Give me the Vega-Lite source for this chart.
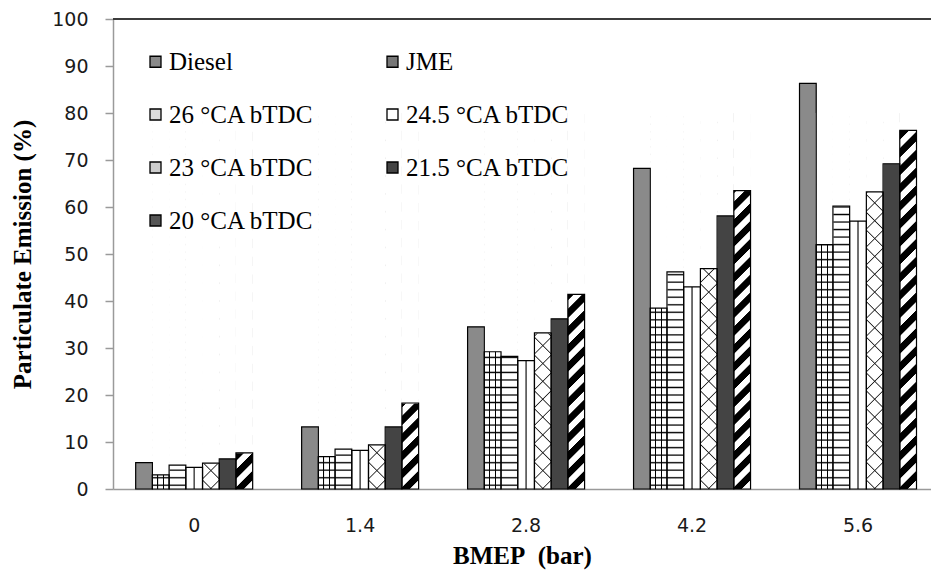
{
"$schema": "https://vega.github.io/schema/vega-lite/v6.json",
"width": 818, "height": 470,
"autosize": {"type": "none"},
"padding": {"left": 113, "top": 19, "right": 0, "bottom": 87},
"background": "#ffffff",
"data": {"values": [
{"bmep":"0","series":"Diesel","value":5.6},
{"bmep":"0","series":"JME","value":3.0},
{"bmep":"0","series":"26 °CA bTDC","value":5.1},
{"bmep":"0","series":"24.5 °CA bTDC","value":4.6},
{"bmep":"0","series":"23 °CA bTDC","value":5.5},
{"bmep":"0","series":"21.5 °CA bTDC","value":6.4},
{"bmep":"0","series":"20 °CA bTDC","value":7.7},
{"bmep":"1.4","series":"Diesel","value":13.2},
{"bmep":"1.4","series":"JME","value":6.9},
{"bmep":"1.4","series":"26 °CA bTDC","value":8.5},
{"bmep":"1.4","series":"24.5 °CA bTDC","value":8.2},
{"bmep":"1.4","series":"23 °CA bTDC","value":9.4},
{"bmep":"1.4","series":"21.5 °CA bTDC","value":13.2},
{"bmep":"1.4","series":"20 °CA bTDC","value":18.3},
{"bmep":"2.8","series":"Diesel","value":34.5},
{"bmep":"2.8","series":"JME","value":29.2},
{"bmep":"2.8","series":"26 °CA bTDC","value":28.2},
{"bmep":"2.8","series":"24.5 °CA bTDC","value":27.3},
{"bmep":"2.8","series":"23 °CA bTDC","value":33.2},
{"bmep":"2.8","series":"21.5 °CA bTDC","value":36.2},
{"bmep":"2.8","series":"20 °CA bTDC","value":41.4},
{"bmep":"4.2","series":"Diesel","value":68.2},
{"bmep":"4.2","series":"JME","value":38.5},
{"bmep":"4.2","series":"26 °CA bTDC","value":46.2},
{"bmep":"4.2","series":"24.5 °CA bTDC","value":43.0},
{"bmep":"4.2","series":"23 °CA bTDC","value":46.9},
{"bmep":"4.2","series":"21.5 °CA bTDC","value":58.1},
{"bmep":"4.2","series":"20 °CA bTDC","value":63.5},
{"bmep":"5.6","series":"Diesel","value":86.3},
{"bmep":"5.6","series":"JME","value":52.0},
{"bmep":"5.6","series":"26 °CA bTDC","value":60.2},
{"bmep":"5.6","series":"24.5 °CA bTDC","value":57.0},
{"bmep":"5.6","series":"23 °CA bTDC","value":63.2},
{"bmep":"5.6","series":"21.5 °CA bTDC","value":69.2},
{"bmep":"5.6","series":"20 °CA bTDC","value":76.3}
]},
"layer": [
{
"encoding": {
"x": {"field": "bmep", "type": "nominal",
"scale": {"domain": ["0","1.4","2.8","4.2","5.6"], "paddingInner": 0.295, "paddingOuter": 0.112, "align": 0.61},
"axis": {"title": "BMEP\u00a0 (bar)", "labelAngle": 0, "ticks": false, "domainColor": "#9a9a9a", "domainWidth": 1.5, "labelFont": "DejaVu Sans", "labelFontSize": 19, "labelColor": "#1a1a1a", "labelPadding": 27, "titleFont": "Liberation Serif", "titleFontWeight": "bold", "titleFontSize": 25, "titleColor": "#000000", "titlePadding": 8}},
"xOffset": {"field": "series", "type": "nominal",
"scale": {"domain": ["Diesel","JME","26 °CA bTDC","24.5 °CA bTDC","23 °CA bTDC","21.5 °CA bTDC","20 °CA bTDC"], "paddingInner": 0, "paddingOuter": 0}}
},
"layer": [
{
"mark": {"type": "bar"},
"encoding": {
"y": {"field": "value", "type": "quantitative", "scale": {"domain": [0, 100], "nice": false},
"axis": {"title": "Particulate Emission (%)", "values": [0,10,20,30,40,50,60,70,80,90,100], "grid": false, "domainColor": "#9a9a9a", "domainWidth": 1.5, "tickColor": "#9a9a9a", "tickWidth": 1.5, "tickSize": 8, "labelFont": "DejaVu Sans", "labelFontSize": 19, "labelColor": "#1a1a1a", "labelPadding": 17, "titleFont": "Liberation Serif", "titleFontWeight": "bold", "titleFontSize": 25, "titleColor": "#000000", "titlePadding": 16}},
"fill": {"field": "series", "type": "nominal",
"scale": {"domain": ["Diesel","JME","26 °CA bTDC","24.5 °CA bTDC","23 °CA bTDC","21.5 °CA bTDC","20 °CA bTDC"],
"range": ["#8a8a8a","#777777","#dddddd","#ffffff","#cccccc","#444444","#555555"]},
"legend": {"orient": "none", "legendX": 30, "legendY": 30, "direction": "horizontal", "columns": 2, "title": null, "symbolType": "square", "symbolSize": 121, "symbolStrokeColor": "#000000", "symbolStrokeWidth": 1.3, "symbolOpacity": 1, "labelFont": "Liberation Serif", "labelFontSize": 25, "labelColor": "#000000", "labelOffset": 1, "rowPadding": 27, "columnPadding": 66, "labelLimit": 400, "padding": 0,
"labelExpr": "datum.value == 'Diesel' ? '\u2002Diesel' : datum.label"}}
}
},
{
"transform": [{"filter": "datum.series === 'JME' || datum.series === '26 °CA bTDC'"}],
"mark": {"type": "bar", "fill": {"gradient": "linear", "x1": 0, "y1": 0, "x2": 0, "y2": 1, "stops": [
{"offset":0.0065,"color":"#fff"},{"offset":0.01,"color":"#000"},{"offset":0.0135,"color":"#fff"},
{"offset":0.0265,"color":"#fff"},{"offset":0.03,"color":"#000"},{"offset":0.0335,"color":"#fff"},
{"offset":0.0465,"color":"#fff"},{"offset":0.05,"color":"#000"},{"offset":0.0535,"color":"#fff"},
{"offset":0.0665,"color":"#fff"},{"offset":0.07,"color":"#000"},{"offset":0.0735,"color":"#fff"},
{"offset":0.0865,"color":"#fff"},{"offset":0.09,"color":"#000"},{"offset":0.0935,"color":"#fff"},
{"offset":0.1065,"color":"#fff"},{"offset":0.11,"color":"#000"},{"offset":0.1135,"color":"#fff"},
{"offset":0.1265,"color":"#fff"},{"offset":0.13,"color":"#000"},{"offset":0.1335,"color":"#fff"},
{"offset":0.1465,"color":"#fff"},{"offset":0.15,"color":"#000"},{"offset":0.1535,"color":"#fff"},
{"offset":0.1665,"color":"#fff"},{"offset":0.17,"color":"#000"},{"offset":0.1735,"color":"#fff"},
{"offset":0.1865,"color":"#fff"},{"offset":0.19,"color":"#000"},{"offset":0.1935,"color":"#fff"},
{"offset":0.2065,"color":"#fff"},{"offset":0.21,"color":"#000"},{"offset":0.2135,"color":"#fff"},
{"offset":0.2265,"color":"#fff"},{"offset":0.23,"color":"#000"},{"offset":0.2335,"color":"#fff"},
{"offset":0.2465,"color":"#fff"},{"offset":0.25,"color":"#000"},{"offset":0.2535,"color":"#fff"},
{"offset":0.2665,"color":"#fff"},{"offset":0.27,"color":"#000"},{"offset":0.2735,"color":"#fff"},
{"offset":0.2865,"color":"#fff"},{"offset":0.29,"color":"#000"},{"offset":0.2935,"color":"#fff"},
{"offset":0.3065,"color":"#fff"},{"offset":0.31,"color":"#000"},{"offset":0.3135,"color":"#fff"},
{"offset":0.3265,"color":"#fff"},{"offset":0.33,"color":"#000"},{"offset":0.3335,"color":"#fff"},
{"offset":0.3465,"color":"#fff"},{"offset":0.35,"color":"#000"},{"offset":0.3535,"color":"#fff"},
{"offset":0.3665,"color":"#fff"},{"offset":0.37,"color":"#000"},{"offset":0.3735,"color":"#fff"},
{"offset":0.3865,"color":"#fff"},{"offset":0.39,"color":"#000"},{"offset":0.3935,"color":"#fff"},
{"offset":0.4065,"color":"#fff"},{"offset":0.41,"color":"#000"},{"offset":0.4135,"color":"#fff"},
{"offset":0.4265,"color":"#fff"},{"offset":0.43,"color":"#000"},{"offset":0.4335,"color":"#fff"},
{"offset":0.4465,"color":"#fff"},{"offset":0.45,"color":"#000"},{"offset":0.4535,"color":"#fff"},
{"offset":0.4665,"color":"#fff"},{"offset":0.47,"color":"#000"},{"offset":0.4735,"color":"#fff"},
{"offset":0.4865,"color":"#fff"},{"offset":0.49,"color":"#000"},{"offset":0.4935,"color":"#fff"},
{"offset":0.5065,"color":"#fff"},{"offset":0.51,"color":"#000"},{"offset":0.5135,"color":"#fff"},
{"offset":0.5265,"color":"#fff"},{"offset":0.53,"color":"#000"},{"offset":0.5335,"color":"#fff"},
{"offset":0.5465,"color":"#fff"},{"offset":0.55,"color":"#000"},{"offset":0.5535,"color":"#fff"},
{"offset":0.5665,"color":"#fff"},{"offset":0.57,"color":"#000"},{"offset":0.5735,"color":"#fff"},
{"offset":0.5865,"color":"#fff"},{"offset":0.59,"color":"#000"},{"offset":0.5935,"color":"#fff"},
{"offset":0.6065,"color":"#fff"},{"offset":0.61,"color":"#000"},{"offset":0.6135,"color":"#fff"},
{"offset":0.6265,"color":"#fff"},{"offset":0.63,"color":"#000"},{"offset":0.6335,"color":"#fff"},
{"offset":0.6465,"color":"#fff"},{"offset":0.65,"color":"#000"},{"offset":0.6535,"color":"#fff"},
{"offset":0.6665,"color":"#fff"},{"offset":0.67,"color":"#000"},{"offset":0.6735,"color":"#fff"},
{"offset":0.6865,"color":"#fff"},{"offset":0.69,"color":"#000"},{"offset":0.6935,"color":"#fff"},
{"offset":0.7065,"color":"#fff"},{"offset":0.71,"color":"#000"},{"offset":0.7135,"color":"#fff"},
{"offset":0.7265,"color":"#fff"},{"offset":0.73,"color":"#000"},{"offset":0.7335,"color":"#fff"},
{"offset":0.7465,"color":"#fff"},{"offset":0.75,"color":"#000"},{"offset":0.7535,"color":"#fff"},
{"offset":0.7665,"color":"#fff"},{"offset":0.77,"color":"#000"},{"offset":0.7735,"color":"#fff"},
{"offset":0.7865,"color":"#fff"},{"offset":0.79,"color":"#000"},{"offset":0.7935,"color":"#fff"},
{"offset":0.8065,"color":"#fff"},{"offset":0.81,"color":"#000"},{"offset":0.8135,"color":"#fff"},
{"offset":0.8265,"color":"#fff"},{"offset":0.83,"color":"#000"},{"offset":0.8335,"color":"#fff"},
{"offset":0.8465,"color":"#fff"},{"offset":0.85,"color":"#000"},{"offset":0.8535,"color":"#fff"},
{"offset":0.8665,"color":"#fff"},{"offset":0.87,"color":"#000"},{"offset":0.8735,"color":"#fff"},
{"offset":0.8865,"color":"#fff"},{"offset":0.89,"color":"#000"},{"offset":0.8935,"color":"#fff"},
{"offset":0.9065,"color":"#fff"},{"offset":0.91,"color":"#000"},{"offset":0.9135,"color":"#fff"},
{"offset":0.9265,"color":"#fff"},{"offset":0.93,"color":"#000"},{"offset":0.9335,"color":"#fff"},
{"offset":0.9465,"color":"#fff"},{"offset":0.95,"color":"#000"},{"offset":0.9535,"color":"#fff"},
{"offset":0.9665,"color":"#fff"},{"offset":0.97,"color":"#000"},{"offset":0.9735,"color":"#fff"},
{"offset":0.9865,"color":"#fff"},{"offset":0.99,"color":"#000"},{"offset":0.9935,"color":"#fff"}
]}},
"encoding": {"y": {"datum": 0, "type": "quantitative"}, "y2": {"datum": 80}}
},
{
"transform": [{"filter": "datum.series === '20 °CA bTDC'"}],
"mark": {"type": "bar", "fill": {"gradient": "linear", "x1": 0, "y1": 0, "x2": 0.0463, "y2": 1.0423, "stops": [
{"offset":0,"color":"#000"},{"offset":0.0215,"color":"#000"},{"offset":0.024,"color":"#fff"},{"offset":0.043,"color":"#fff"},
{"offset":0.0455,"color":"#000"},{"offset":0.067,"color":"#000"},{"offset":0.0695,"color":"#fff"},{"offset":0.0885,"color":"#fff"},
{"offset":0.0909,"color":"#000"},{"offset":0.1124,"color":"#000"},{"offset":0.1149,"color":"#fff"},{"offset":0.1339,"color":"#fff"},
{"offset":0.1364,"color":"#000"},{"offset":0.1579,"color":"#000"},{"offset":0.1604,"color":"#fff"},{"offset":0.1794,"color":"#fff"},
{"offset":0.1818,"color":"#000"},{"offset":0.2033,"color":"#000"},{"offset":0.2058,"color":"#fff"},{"offset":0.2248,"color":"#fff"},
{"offset":0.2273,"color":"#000"},{"offset":0.2488,"color":"#000"},{"offset":0.2513,"color":"#fff"},{"offset":0.2703,"color":"#fff"},
{"offset":0.2727,"color":"#000"},{"offset":0.2942,"color":"#000"},{"offset":0.2967,"color":"#fff"},{"offset":0.3157,"color":"#fff"},
{"offset":0.3182,"color":"#000"},{"offset":0.3397,"color":"#000"},{"offset":0.3422,"color":"#fff"},{"offset":0.3612,"color":"#fff"},
{"offset":0.3636,"color":"#000"},{"offset":0.3851,"color":"#000"},{"offset":0.3876,"color":"#fff"},{"offset":0.4066,"color":"#fff"},
{"offset":0.4091,"color":"#000"},{"offset":0.4306,"color":"#000"},{"offset":0.4331,"color":"#fff"},{"offset":0.4521,"color":"#fff"},
{"offset":0.4545,"color":"#000"},{"offset":0.476,"color":"#000"},{"offset":0.4785,"color":"#fff"},{"offset":0.4975,"color":"#fff"},
{"offset":0.5,"color":"#000"},{"offset":0.5215,"color":"#000"},{"offset":0.524,"color":"#fff"},{"offset":0.543,"color":"#fff"},
{"offset":0.5455,"color":"#000"},{"offset":0.567,"color":"#000"},{"offset":0.5695,"color":"#fff"},{"offset":0.5885,"color":"#fff"},
{"offset":0.5909,"color":"#000"},{"offset":0.6124,"color":"#000"},{"offset":0.6149,"color":"#fff"},{"offset":0.6339,"color":"#fff"},
{"offset":0.6364,"color":"#000"},{"offset":0.6579,"color":"#000"},{"offset":0.6604,"color":"#fff"},{"offset":0.6794,"color":"#fff"},
{"offset":0.6818,"color":"#000"},{"offset":0.7033,"color":"#000"},{"offset":0.7058,"color":"#fff"},{"offset":0.7248,"color":"#fff"},
{"offset":0.7273,"color":"#000"},{"offset":0.7488,"color":"#000"},{"offset":0.7513,"color":"#fff"},{"offset":0.7703,"color":"#fff"},
{"offset":0.7727,"color":"#000"},{"offset":0.7942,"color":"#000"},{"offset":0.7967,"color":"#fff"},{"offset":0.8157,"color":"#fff"},
{"offset":0.8182,"color":"#000"},{"offset":0.8397,"color":"#000"},{"offset":0.8422,"color":"#fff"},{"offset":0.8612,"color":"#fff"},
{"offset":0.8636,"color":"#000"},{"offset":0.8851,"color":"#000"},{"offset":0.8876,"color":"#fff"},{"offset":0.9066,"color":"#fff"},
{"offset":0.9091,"color":"#000"},{"offset":0.9306,"color":"#000"},{"offset":0.9331,"color":"#fff"},{"offset":0.9521,"color":"#fff"},
{"offset":0.9545,"color":"#000"},{"offset":0.976,"color":"#000"},{"offset":0.9785,"color":"#fff"},{"offset":0.9975,"color":"#fff"}
]}},
"encoding": {"y": {"datum": 0, "type": "quantitative"}, "y2": {"datum": 80}}
},
{
"transform": [{"filter": "datum.series === '23 °CA bTDC'"}],
"mark": {"type": "bar", "fill": {"gradient": "linear", "x1": 0, "y1": 0, "x2": 0.0463, "y2": 1.0423, "stops": [
{"offset":0.0197,"color":"#fff"},{"offset":0.0227,"color":"#222"},{"offset":0.0257,"color":"#fff"},
{"offset":0.0652,"color":"#fff"},{"offset":0.0682,"color":"#222"},{"offset":0.0712,"color":"#fff"},
{"offset":0.1106,"color":"#fff"},{"offset":0.1136,"color":"#222"},{"offset":0.1166,"color":"#fff"},
{"offset":0.1561,"color":"#fff"},{"offset":0.1591,"color":"#222"},{"offset":0.1621,"color":"#fff"},
{"offset":0.2015,"color":"#fff"},{"offset":0.2045,"color":"#222"},{"offset":0.2075,"color":"#fff"},
{"offset":0.247,"color":"#fff"},{"offset":0.25,"color":"#222"},{"offset":0.253,"color":"#fff"},
{"offset":0.2925,"color":"#fff"},{"offset":0.2955,"color":"#222"},{"offset":0.2985,"color":"#fff"},
{"offset":0.3379,"color":"#fff"},{"offset":0.3409,"color":"#222"},{"offset":0.3439,"color":"#fff"},
{"offset":0.3834,"color":"#fff"},{"offset":0.3864,"color":"#222"},{"offset":0.3894,"color":"#fff"},
{"offset":0.4288,"color":"#fff"},{"offset":0.4318,"color":"#222"},{"offset":0.4348,"color":"#fff"},
{"offset":0.4743,"color":"#fff"},{"offset":0.4773,"color":"#222"},{"offset":0.4803,"color":"#fff"},
{"offset":0.5197,"color":"#fff"},{"offset":0.5227,"color":"#222"},{"offset":0.5257,"color":"#fff"},
{"offset":0.5652,"color":"#fff"},{"offset":0.5682,"color":"#222"},{"offset":0.5712,"color":"#fff"},
{"offset":0.6106,"color":"#fff"},{"offset":0.6136,"color":"#222"},{"offset":0.6166,"color":"#fff"},
{"offset":0.6561,"color":"#fff"},{"offset":0.6591,"color":"#222"},{"offset":0.6621,"color":"#fff"},
{"offset":0.7015,"color":"#fff"},{"offset":0.7045,"color":"#222"},{"offset":0.7075,"color":"#fff"},
{"offset":0.747,"color":"#fff"},{"offset":0.75,"color":"#222"},{"offset":0.753,"color":"#fff"},
{"offset":0.7925,"color":"#fff"},{"offset":0.7955,"color":"#222"},{"offset":0.7985,"color":"#fff"},
{"offset":0.8379,"color":"#fff"},{"offset":0.8409,"color":"#222"},{"offset":0.8439,"color":"#fff"},
{"offset":0.8834,"color":"#fff"},{"offset":0.8864,"color":"#222"},{"offset":0.8894,"color":"#fff"},
{"offset":0.9288,"color":"#fff"},{"offset":0.9318,"color":"#222"},{"offset":0.9348,"color":"#fff"},
{"offset":0.9743,"color":"#fff"},{"offset":0.9773,"color":"#222"},{"offset":0.9803,"color":"#fff"}
]}},
"encoding": {"y": {"datum": 0, "type": "quantitative"}, "y2": {"datum": 80}}
},
{
"transform": [{"filter": "datum.series === '23 °CA bTDC'"}],
"mark": {"type": "bar", "fill": {"gradient": "linear", "x1": 0, "y1": 1, "x2": 0.0463, "y2": -0.0423, "stops": [
{"offset":0.0197,"color":"rgba(0,0,0,0)"},{"offset":0.0227,"color":"#222"},{"offset":0.0257,"color":"rgba(0,0,0,0)"},
{"offset":0.0652,"color":"rgba(0,0,0,0)"},{"offset":0.0682,"color":"#222"},{"offset":0.0712,"color":"rgba(0,0,0,0)"},
{"offset":0.1106,"color":"rgba(0,0,0,0)"},{"offset":0.1136,"color":"#222"},{"offset":0.1166,"color":"rgba(0,0,0,0)"},
{"offset":0.1561,"color":"rgba(0,0,0,0)"},{"offset":0.1591,"color":"#222"},{"offset":0.1621,"color":"rgba(0,0,0,0)"},
{"offset":0.2015,"color":"rgba(0,0,0,0)"},{"offset":0.2045,"color":"#222"},{"offset":0.2075,"color":"rgba(0,0,0,0)"},
{"offset":0.247,"color":"rgba(0,0,0,0)"},{"offset":0.25,"color":"#222"},{"offset":0.253,"color":"rgba(0,0,0,0)"},
{"offset":0.2925,"color":"rgba(0,0,0,0)"},{"offset":0.2955,"color":"#222"},{"offset":0.2985,"color":"rgba(0,0,0,0)"},
{"offset":0.3379,"color":"rgba(0,0,0,0)"},{"offset":0.3409,"color":"#222"},{"offset":0.3439,"color":"rgba(0,0,0,0)"},
{"offset":0.3834,"color":"rgba(0,0,0,0)"},{"offset":0.3864,"color":"#222"},{"offset":0.3894,"color":"rgba(0,0,0,0)"},
{"offset":0.4288,"color":"rgba(0,0,0,0)"},{"offset":0.4318,"color":"#222"},{"offset":0.4348,"color":"rgba(0,0,0,0)"},
{"offset":0.4743,"color":"rgba(0,0,0,0)"},{"offset":0.4773,"color":"#222"},{"offset":0.4803,"color":"rgba(0,0,0,0)"},
{"offset":0.5197,"color":"rgba(0,0,0,0)"},{"offset":0.5227,"color":"#222"},{"offset":0.5257,"color":"rgba(0,0,0,0)"},
{"offset":0.5652,"color":"rgba(0,0,0,0)"},{"offset":0.5682,"color":"#222"},{"offset":0.5712,"color":"rgba(0,0,0,0)"},
{"offset":0.6106,"color":"rgba(0,0,0,0)"},{"offset":0.6136,"color":"#222"},{"offset":0.6166,"color":"rgba(0,0,0,0)"},
{"offset":0.6561,"color":"rgba(0,0,0,0)"},{"offset":0.6591,"color":"#222"},{"offset":0.6621,"color":"rgba(0,0,0,0)"},
{"offset":0.7015,"color":"rgba(0,0,0,0)"},{"offset":0.7045,"color":"#222"},{"offset":0.7075,"color":"rgba(0,0,0,0)"},
{"offset":0.747,"color":"rgba(0,0,0,0)"},{"offset":0.75,"color":"#222"},{"offset":0.753,"color":"rgba(0,0,0,0)"},
{"offset":0.7925,"color":"rgba(0,0,0,0)"},{"offset":0.7955,"color":"#222"},{"offset":0.7985,"color":"rgba(0,0,0,0)"},
{"offset":0.8379,"color":"rgba(0,0,0,0)"},{"offset":0.8409,"color":"#222"},{"offset":0.8439,"color":"rgba(0,0,0,0)"},
{"offset":0.8834,"color":"rgba(0,0,0,0)"},{"offset":0.8864,"color":"#222"},{"offset":0.8894,"color":"rgba(0,0,0,0)"},
{"offset":0.9288,"color":"rgba(0,0,0,0)"},{"offset":0.9318,"color":"#222"},{"offset":0.9348,"color":"rgba(0,0,0,0)"},
{"offset":0.9743,"color":"rgba(0,0,0,0)"},{"offset":0.9773,"color":"#222"},{"offset":0.9803,"color":"rgba(0,0,0,0)"}
]}},
"encoding": {"y": {"datum": 0, "type": "quantitative"}, "y2": {"datum": 80}}
},
{
"transform": [{"filter": "datum.series === 'JME' || datum.series === '26 °CA bTDC' || datum.series === '23 °CA bTDC' || datum.series === '20 °CA bTDC'"}],
"mark": {"type": "bar", "fill": "#ffffff", "stroke": "#ffffff", "strokeWidth": 1},
"encoding": {"y": {"field": "value", "type": "quantitative"}, "y2": {"datum": 80}}
},
{
"transform": [{"filter": "datum.series === 'JME'"}],
"mark": {"type": "bar", "fill": {"gradient": "linear", "x1": 0, "y1": 0, "x2": 1, "y2": 0, "stops": [
{"offset":0.27,"color":"rgba(0,0,0,0)"},{"offset":0.3,"color":"#000"},{"offset":0.34,"color":"#000"},{"offset":0.37,"color":"rgba(0,0,0,0)"},
{"offset":0.62,"color":"rgba(0,0,0,0)"},{"offset":0.65,"color":"#000"},{"offset":0.69,"color":"#000"},{"offset":0.72,"color":"rgba(0,0,0,0)"}
]}},
"encoding": {"y": {"field": "value", "type": "quantitative"}}
},
{
"transform": [{"filter": "datum.series === '24.5 °CA bTDC'"}],
"mark": {"type": "bar", "fill": {"gradient": "linear", "x1": 0, "y1": 0, "x2": 1, "y2": 0, "stops": [
{"offset":0.44,"color":"rgba(0,0,0,0)"},{"offset":0.48,"color":"#555"},{"offset":0.52,"color":"#555"},{"offset":0.56,"color":"rgba(0,0,0,0)"}
]}},
"encoding": {"y": {"field": "value", "type": "quantitative"}}
},
{
"mark": {"type": "bar", "fill": "transparent", "stroke": "#000000", "strokeWidth": 1.2},
"encoding": {"y": {"field": "value", "type": "quantitative"}}
}
]
},
{
"transform": [{"filter": "datum.series === 'Diesel' && datum.bmep === '0'"}],
"mark": {"type": "rule", "color": "#3c3c3c", "strokeWidth": 2},
"encoding": {"y": {"datum": 100, "type": "quantitative"}}
}
],
"config": {"view": {"stroke": null}, "axis": {"grid": false}}
}
